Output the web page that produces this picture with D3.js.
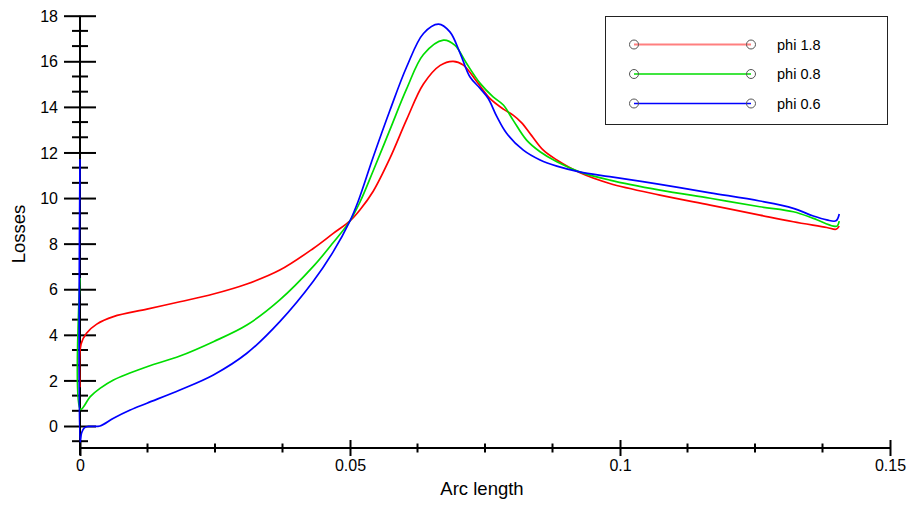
<!DOCTYPE html>
<html><head><meta charset="utf-8">
<script src="https://cdn.jsdelivr.net/npm/d3@7"></script>
<style>
html,body{margin:0;padding:0;background:#fff;}
svg{display:block;font-family:"Liberation Sans",Arial,sans-serif;}
</style></head>
<body>
<svg id="chart" width="910" height="506"></svg>
<script>
// ---- data ----
const seriesNames = ["phi 1.8", "phi 0.8", "phi 0.6"];
const seriesColors = ["#ff0000", "#00dd00", "#0000ff"];

const arcRed = [0, 0.0002, 0.0012, 0.0031, 0.0062, 0.0124, 0.0185, 0.0247, 0.0309, 0.037, 0.0432, 0.0469, 0.05, 0.0519, 0.0543, 0.0574, 0.0605, 0.0636, 0.0667, 0.0691, 0.071, 0.0735, 0.0759, 0.0784, 0.0802, 0.0818, 0.0836, 0.0858, 0.0883, 0.0925, 0.0981, 0.1074, 0.1167, 0.1259, 0.1321, 0.1383, 0.14, 0.1406];
const lossRed = [1.7, 3.6, 4.07, 4.47, 4.80, 5.13, 5.45, 5.79, 6.23, 6.84, 7.79, 8.45, 9.0, 9.5, 10.3, 11.75, 13.45, 15.0, 15.82, 16.0, 15.83, 15.1, 14.37, 13.9, 13.64, 13.3, 12.75, 12.1, 11.67, 11.12, 10.64, 10.13, 9.69, 9.25, 8.96, 8.71, 8.63, 8.77];

const arcGreen = [0, 0.0001, 0.0019, 0.0037, 0.0062, 0.0124, 0.0185, 0.0247, 0.0309, 0.037, 0.0432, 0.0469, 0.05, 0.0519, 0.0543, 0.0574, 0.0605, 0.0636, 0.0673, 0.0694, 0.0716, 0.0741, 0.0765, 0.0784, 0.0802, 0.0827, 0.0852, 0.0883, 0.0925, 0.0981, 0.1074, 0.1167, 0.1259, 0.1321, 0.1358, 0.1395, 0.1402, 0.1406];
const lossGreen = [6.5, 0.73, 1.29, 1.65, 2.02, 2.60, 3.07, 3.70, 4.43, 5.53, 7.0, 8.05, 9.0, 9.85, 11.2, 13.0, 14.8, 16.3, 16.93, 16.71, 15.9, 15.03, 14.44, 14.08, 13.42, 12.54, 12.03, 11.59, 11.15, 10.79, 10.35, 9.99, 9.62, 9.40, 9.11, 8.77, 8.77, 8.99];

const arcBlue = [0, 0.00003, 0.0003, 0.0008, 0.0015, 0.0037, 0.0062, 0.0093, 0.0124, 0.0185, 0.0247, 0.0309, 0.037, 0.0432, 0.0469, 0.05, 0.0515, 0.0543, 0.0574, 0.0605, 0.0636, 0.0664, 0.0685, 0.0704, 0.0722, 0.0741, 0.0756, 0.0772, 0.079, 0.0821, 0.0852, 0.0883, 0.0925, 0.0981, 0.1074, 0.1167, 0.1259, 0.1321, 0.1358, 0.1383, 0.14, 0.1406];
const lossBlue = [11.7, -0.7, -0.3, -0.08, -0.02, 0.0, 0.34, 0.70, 1.0, 1.58, 2.24, 3.19, 4.58, 6.35, 7.65, 9.0, 9.85, 11.8, 13.85, 15.76, 17.22, 17.63, 17.29, 16.35, 15.32, 14.81, 14.37, 13.57, 12.84, 12.1, 11.67, 11.4, 11.15, 10.94, 10.6, 10.23, 9.87, 9.55, 9.21, 9.04, 9.0, 9.3];

const xMajorTicks = [0, 0.05, 0.1, 0.15];
const xTickLabels = ["0", "0.05", "0.1", "0.15"];
const yMajorTicks = [0, 2, 4, 6, 8, 10, 12, 14, 16, 18];
const xLabel = "Arc length";
const yLabel = "Losses";

// ---- drawing ----
const svg = d3.select("#chart");
const x = d3.scaleLinear().domain([0, 0.15]).range([80, 890]);
const y = d3.scaleLinear().domain([-0.965, 18]).range([448, 15.7]);

const series = [
  {name: seriesNames[0], color: seriesColors[0], pts: arcRed.map((s, i) => [s, lossRed[i]])},
  {name: seriesNames[1], color: seriesColors[1], pts: arcGreen.map((s, i) => [s, lossGreen[i]])},
  {name: seriesNames[2], color: seriesColors[2], pts: arcBlue.map((s, i) => [s, lossBlue[i]])}
];

// y axis
const yAx = d3.axisLeft(y).tickValues(yMajorTicks).tickSizeOuter(0).tickFormat(d3.format("d"));
const yg = svg.append("g").attr("transform", `translate(${x(0)},0)`).call(yAx);
yg.select(".domain").remove();
yg.selectAll(".tick line").attr("x1", -16).attr("x2", 16).attr("stroke", "#000").attr("stroke-width", 2);
yg.selectAll(".tick text").attr("x", -22).attr("dy", "0.35em").attr("font-size", 16)
  .attr("font-family", "'Liberation Sans', Arial, sans-serif").attr("fill", "#000");
const yMinor = d3.range(-1, 28).filter(k => k % 3 !== 0).map(k => k * 2 / 3);
yg.selectAll(".minor").data(yMinor).enter().append("line").attr("class", "minor")
  .attr("x1", -8).attr("x2", 8).attr("y1", d => y(d)).attr("y2", d => y(d))
  .attr("stroke", "#000").attr("stroke-width", 2);
yg.append("line").attr("x1", 0).attr("x2", 0).attr("y1", y(18)).attr("y2", y(-0.965) + 7)
  .attr("stroke", "#000").attr("stroke-width", 2);

// x axis
const xAx = d3.axisBottom(x).tickValues(xMajorTicks).tickSizeOuter(0).tickFormat((d, i) => xTickLabels[i]);
const xg = svg.append("g").attr("transform", `translate(0,${y(-0.965)})`).call(xAx);
xg.select(".domain").remove();
xg.selectAll(".tick line").attr("y1", -8).attr("y2", 8).attr("stroke", "#000").attr("stroke-width", 2);
xg.selectAll(".tick text").attr("y", 12).attr("dy", "0.71em").attr("font-size", 16)
  .attr("font-family", "'Liberation Sans', Arial, sans-serif").attr("fill", "#000");
const xMinor = d3.range(1, 12).filter(k => k % 4 !== 0).map(k => k * 0.0125);
xg.selectAll(".minor").data(xMinor).enter().append("line").attr("class", "minor")
  .attr("x1", d => x(d)).attr("x2", d => x(d)).attr("y1", -4.5).attr("y2", 4.5)
  .attr("stroke", "#000").attr("stroke-width", 2);
xg.append("line").attr("x1", x(0)).attr("x2", x(0.15)).attr("y1", 0).attr("y2", 0)
  .attr("stroke", "#000").attr("stroke-width", 2);

// axis titles
svg.append("text").attr("x", 482).attr("y", 495).attr("text-anchor", "middle")
  .attr("font-size", 18.5).text(xLabel);
svg.append("text").attr("transform", "translate(25,234) rotate(-90)").attr("text-anchor", "middle")
  .attr("font-size", 18.5).text(yLabel);

// lines
const line = d3.line().x(d => x(d[0])).y(d => y(d[1])).curve(d3.curveCatmullRom.alpha(0.5));
svg.append("g").selectAll("path").data(series).enter().append("path")
  .attr("d", d => line(d.pts)).attr("fill", "none").attr("stroke", d => d.color)
  .attr("stroke-width", 1.7).attr("stroke-linejoin", "round");

// legend
const lg = svg.append("g");
lg.append("rect").attr("x", 605.5).attr("y", 16.5).attr("width", 282).attr("height", 108)
  .attr("fill", "#fff").attr("stroke", "#222").attr("stroke-width", 1);
const rowY = [44.5, 74, 103.5];
series.forEach((s, i) => {
  const g = lg.append("g");
  g.append("line").attr("x1", 634).attr("x2", 751).attr("y1", rowY[i]).attr("y2", rowY[i])
    .attr("stroke", s.color).attr("stroke-width", i === 0 ? 2 : 1.3).attr("stroke-opacity", i === 0 ? 0.5 : 1);
  [634, 751].forEach(cx => g.append("circle").attr("cx", cx).attr("cy", rowY[i]).attr("r", 4.5)
    .attr("fill", "none").attr("stroke", "#555").attr("stroke-width", 1));
  g.append("text").attr("x", 777).attr("y", rowY[i]).attr("dy", "0.35em")
    .attr("font-size", 14.5).text(s.name);
});
</script>
</body></html>
